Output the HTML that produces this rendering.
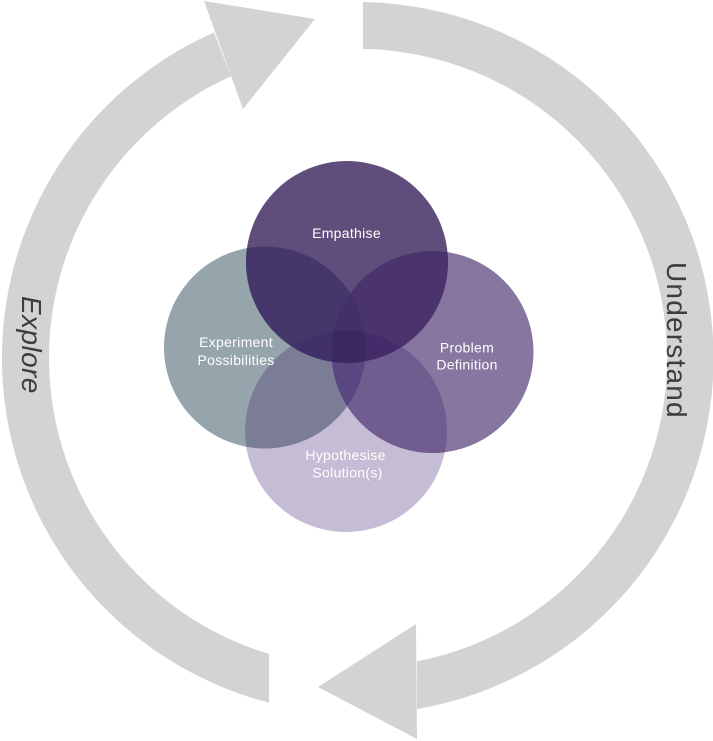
<!DOCTYPE html>
<html>
<head>
<meta charset="utf-8">
<style>
  html, body { margin: 0; padding: 0; background: #ffffff; }
  body { width: 713px; height: 741px; overflow: hidden; }
  svg { display: block; }
  .lbl { font-family: "Liberation Sans", sans-serif; font-size: 14px; fill: #ffffff; letter-spacing: 0.3px; }
  .big { font-family: "Liberation Sans", sans-serif; font-size: 28px; fill: #3d3d3f; }
</style>
</head>
<body>
<svg width="713" height="741" viewBox="0 0 713 741" xmlns="http://www.w3.org/2000/svg">
  <defs>
    <clipPath id="cA"><circle cx="347" cy="262" r="101"/></clipPath>
    <clipPath id="cB"><circle cx="265" cy="347.5" r="101"/></clipPath>
    <clipPath id="cC"><circle cx="432.5" cy="352" r="101"/></clipPath>
    <clipPath id="cD"><circle cx="346" cy="431" r="101"/></clipPath>
  </defs>

  <!-- Outer cycle arrows -->
  <g fill="#d2d3d5">
    <!-- Right arc (Understand) -->
    <path d="M 363 2.04 A 356 356 0 0 1 417 709 L 417 661.3 A 309 309 0 0 0 363 49 Z"/>
    <polygon points="416,624 318,687 417,739"/>
    <!-- Left arc (Explore) -->
    <path d="M 269 702.7 A 356 356 0 0 1 214 32.4 L 231 76.3 A 309 309 0 0 0 269 653.9 Z"/>
    <polygon points="204,1 315,19 243,109"/>
  </g>

  <text class="big" font-style="italic" transform="translate(22,296) rotate(90)" letter-spacing="0.4">Explore</text>
  <text class="big" transform="translate(667,262) rotate(90)" letter-spacing="1.2">Understand</text>

  <!-- Venn base circles -->
  <circle cx="265" cy="347.5" r="101" fill="#96a4ac"/>
  <circle cx="346" cy="431" r="101" fill="#c5bcd5"/>
  <circle cx="432.5" cy="352" r="101" fill="#87769f"/>
  <circle cx="347" cy="262" r="101" fill="#5f4e7b"/>

  <!-- pair intersections -->
  <g clip-path="url(#cA)"><circle cx="265" cy="347.5" r="101" fill="#453769"/></g>
  <g clip-path="url(#cA)"><circle cx="432.5" cy="352" r="101" fill="#4b336e"/></g>
  <g clip-path="url(#cA)"><circle cx="346" cy="431" r="101" fill="#42306a"/></g>
  <g clip-path="url(#cB)"><circle cx="432.5" cy="352" r="101" fill="#5a4883"/></g>
  <g clip-path="url(#cB)"><circle cx="346" cy="431" r="101" fill="#7b7c96"/></g>
  <g clip-path="url(#cC)"><circle cx="346" cy="431" r="101" fill="#705c8f"/></g>

  <!-- triple intersections -->
  <g clip-path="url(#cA)"><g clip-path="url(#cB)"><circle cx="432.5" cy="352" r="101" fill="#432f6a"/></g></g>
  <g clip-path="url(#cA)"><g clip-path="url(#cB)"><circle cx="346" cy="431" r="101" fill="#41316a"/></g></g>
  <g clip-path="url(#cA)"><g clip-path="url(#cC)"><circle cx="346" cy="431" r="101" fill="#432c69"/></g></g>
  <g clip-path="url(#cB)"><g clip-path="url(#cC)"><circle cx="346" cy="431" r="101" fill="#5a4782"/></g></g>

  <!-- quadruple -->
  <g clip-path="url(#cA)"><g clip-path="url(#cB)"><g clip-path="url(#cC)"><circle cx="346" cy="431" r="101" fill="#3d2763"/></g></g></g>

  <!-- Labels -->
  <text class="lbl" x="346.5" y="238" text-anchor="middle">Empathise</text>
  <text class="lbl" x="236" y="347" text-anchor="middle">Experiment</text>
  <text class="lbl" x="236" y="365" text-anchor="middle">Possibilities</text>
  <text class="lbl" x="467" y="352.5" text-anchor="middle">Problem</text>
  <text class="lbl" x="467" y="369.5" text-anchor="middle">Definition</text>
  <text class="lbl" x="345.5" y="460" text-anchor="middle">Hypothesise</text>
  <text class="lbl" x="347.5" y="477.5" text-anchor="middle">Solution(s)</text>
</svg>
</body>
</html>
